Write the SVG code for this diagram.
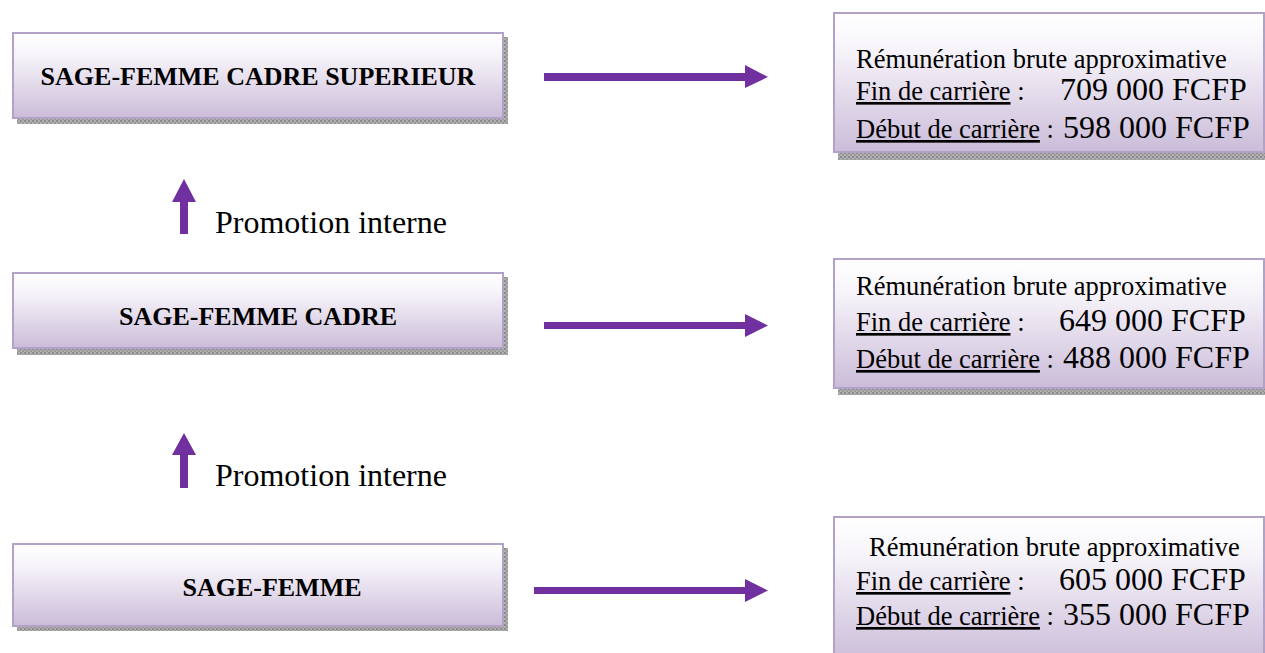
<svg xmlns="http://www.w3.org/2000/svg" width="1265" height="653" viewBox="0 0 1265 653">
<defs>
<linearGradient id="g" x1="0" y1="0" x2="0" y2="1">
<stop offset="0" stop-color="#ffffff"/>
<stop offset="0.25" stop-color="#f7f5fa"/>
<stop offset="1" stop-color="#cbbcd9"/>
</linearGradient>
<pattern id="sh" width="4" height="4" patternUnits="userSpaceOnUse">
<rect width="4" height="4" fill="#b0b0b0"/>
<rect width="2" height="2" fill="#8c8c8c"/>
<rect x="2" y="2" width="2" height="2" fill="#9a9a9a"/>
</pattern>
</defs>
<style>
.shadow{fill:url(#sh)}
.box{fill:url(#g);stroke:#b3a2c8;stroke-width:2}
.title{font-family:"Liberation Serif",serif;font-weight:bold;font-size:26px;fill:#000;text-anchor:middle}
.lbl{font-family:"Liberation Serif",serif;font-size:26.5px;fill:#000}
.amt{font-family:"Liberation Serif",serif;font-size:32px;fill:#000}
.u{text-decoration:underline}
.prom{font-family:"Liberation Serif",serif;font-size:32px;fill:#000}
.arrow{fill:#7030a0}
</style>

<g id="node-cadre-sup">
<rect class="shadow" x="17" y="37" width="491" height="87"/>
<rect class="box" x="13" y="33" width="490" height="85"/>
<text class="title" x="258" y="85">SAGE-FEMME CADRE SUPERIEUR</text>
</g>
<g id="node-cadre">
<rect class="shadow" x="17" y="277" width="491" height="78"/>
<rect class="box" x="13" y="273" width="490" height="75"/>
<text class="title" x="258" y="325">SAGE-FEMME CADRE</text>
</g>
<g id="node-sf">
<rect class="shadow" x="17" y="548" width="491" height="83"/>
<rect class="box" x="13" y="544" width="490" height="82"/>
<text class="title" x="272" y="596">SAGE-FEMME</text>
</g>

<g id="sal-cadre-sup">
<rect class="shadow" x="838" y="17" width="432" height="143"/>
<rect class="box" x="834" y="13" width="430" height="139"/>
<text class="lbl" x="856" y="68">Rémunération brute approximative</text>
<text class="lbl" x="856" y="100"><tspan class="u">Fin de carrière</tspan> :</text>
<text class="amt" x="1060" y="100">709 000 FCFP</text>
<text class="lbl" x="856" y="138"><tspan class="u">Début de carrière</tspan> :</text>
<text class="amt" x="1063" y="138">598 000 FCFP</text>
</g>
<g id="sal-cadre">
<rect class="shadow" x="838" y="263" width="432" height="132"/>
<rect class="box" x="834" y="259" width="430" height="129"/>
<text class="lbl" x="856" y="295">Rémunération brute approximative</text>
<text class="lbl" x="856" y="331"><tspan class="u">Fin de carrière</tspan> :</text>
<text class="amt" x="1059" y="331">649 000  FCFP</text>
<text class="lbl" x="856" y="368"><tspan class="u">Début de carrière</tspan> :</text>
<text class="amt" x="1063" y="368">488 000 FCFP</text>
</g>
<g id="sal-sf">
<rect class="shadow" x="838" y="521" width="432" height="140"/>
<rect class="box" x="834" y="517" width="430" height="145"/>
<text class="lbl" x="869" y="556">Rémunération brute approximative</text>
<text class="lbl" x="856" y="590"><tspan class="u">Fin de carrière</tspan> :</text>
<text class="amt" x="1059" y="590">605 000  FCFP</text>
<text class="lbl" x="856" y="625"><tspan class="u">Début de carrière</tspan> :</text>
<text class="amt" x="1063" y="625">355 000 FCFP</text>
</g>

<g id="connectors">
<path class="arrow" d="M544,73 H745 V65 L768,77 L745,88 V81 H544 Z"/>
<path class="arrow" d="M544,322 H745 V314 L768,325.5 L745,337 V329 H544 Z"/>
<path class="arrow" d="M534,587 H745 V579 L768,590.5 L745,602 V594 H534 Z"/>
<path class="arrow" d="M180,234 V202 H172 L184,179 L196,202 H188 V234 Z"/>
<path class="arrow" d="M180,488 V455 H172 L184,433 L196,455 H188 V488 Z"/>
<text class="prom" x="215" y="233">Promotion interne</text>
<text class="prom" x="215" y="486">Promotion interne</text>
</g>
</svg>
